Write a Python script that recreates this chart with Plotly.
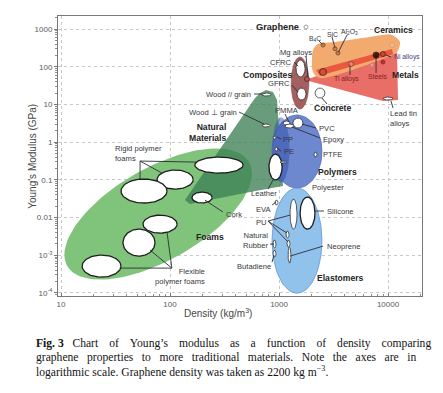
import math
import numpy as np
import plotly.graph_objects as go

# ---------------- axis ticks ----------------
x_tick_vals = [10, 100, 1000, 10000]
x_tick_text = ["10", "100", "1000", "10000"]
y_tick_vals = [1e-4, 1e-3, 0.01, 0.1, 1, 10, 100, 1000]
y_tick_text = ["10<sup>-4</sup>", "10<sup>-3</sup>", "0.01", "0.1", "1", "10", "100", "1000"]

# ---------------- family envelopes (density kg/m3, modulus GPa) ----------------
env_names = ["Polymers", "Polymers (dense part)", "Elastomers", "Composites"]
env_rho_lo = [863, 866, 863, 1290]
env_rho_hi = [2477, 1250, 2477, 1880]
env_E_lo = [0.0605, 0.085, 9.9e-5, 7.55]
env_E_hi = [5.24, 4.6, 0.0605, 181]

# foams envelope: ends of its long axis and of its short axis
foam_long_rho = [11.4, 531]
foam_long_E = [5.2e-4, 0.296]
foam_short_rho = [47.8, 126]
foam_short_E = [0.143, 1.08e-3]

# polygon envelopes
natural_rho = [670, 760, 881, 959, 1089, 542, 152, 137, 603]
natural_E = [20, 24.1, 21.3, 13.1, 0.0686, 0.0474, 0.0228, 0.0291, 14.8]
metal_rho = [1734, 11130, 12100, 12360, 8990]
metal_E = [44.4, 277, 231, 13.1, 12.3]
ceramic_rho = [2051, 2280, 3266, 6839, 10890, 12880, 12100, 9380, 2377, 2050]
ceramic_E = [277, 400, 452, 614, 693, 452, 245, 170, 50.1, 72.3]
overlap_rho = [2183, 10890, 11130, 2377]
overlap_E = [81.7, 294, 215, 58]

# ---------------- individual materials (density range, modulus range) ----------------
mat_names = ["Rigid foam 1", "Rigid foam 2", "Rigid foam 3", "Cork",
             "Flexible foam 1", "Flexible foam 2", "Flexible foam 3",
             "Wood // grain", "Wood perp grain", "Leather",
             "PMMA", "PVC", "Epoxy", "PP", "PE", "PTFE", "Polyester",
             "EVA", "PU", "PU 2", "PU 3", "Neoprene", "Natural rubber", "Butadiene", "Silicone",
             "CFRC", "GFRC", "Lead tin alloys", "Concrete"]
mat_rho_lo = [169, 76, 35.5, 159, 56.5, 37, 15.6, 698, 700, 809,
              1089, 1343, 1135, 881, 918, 2094, 1021,
              918, 1262, 1159, 1183, 1211, 881, 881, 1560,
              1432, 1463, 8990, 2140]
mat_rho_hi = [468, 163, 93.8, 243, 116, 72.8, 35.5, 845, 830, 1067,
              1262, 1660, 1373, 938, 979, 2233, 1183,
              979, 1463, 1236, 1262, 1288, 938, 938, 2138,
              1734, 1770, 11130, 2640]
mat_E_lo = [0.151, 0.057, 0.0243, 0.0243, 0.00388, 0.00095, 0.000264, 16.7, 2.52, 0.099,
            2.84, 2.37, 2.37, 1.21, 0.58, 0.403, 0.279,
            0.0215, 0.00495, 0.00286, 0.00165, 0.00062, 0.00155, 0.000895, 0.00495,
            53.3, 13.1, 13.1, 14.8]
mat_E_hi = [0.403, 0.182, 0.105, 0.0474, 0.0116, 0.00495, 0.00101, 20, 3.02, 0.483,
            3.63, 4.35, 3.02, 1.45, 0.74, 0.546, 0.315,
            0.0291, 0.031, 0.0044, 0.00253, 0.00165, 0.00253, 0.00137, 0.035,
            151, 27.2, 15.7, 27.2]

# ---------------- single-point materials ----------------
pt_names = ["Graphene", "B4C", "SiC", "Al2O3", "Ceramic", "Mg alloys", "Al alloys",
            "Ti alloys", "Alloy", "Steels", "Ni alloys", "Alloy 2"]
pt_rho = [1770, 2535, 3266, 3476, 10890, 1807, 2535, 4580, 7130, 7770, 8990, 8990]
pt_E = [1130, 377, 300, 231, 377, 47.2, 72.3, 118, 111, 204, 217, 133]

# ---------------- labels ----------------
lab_text = ["Graphene", "Ceramics", "Metals", "Composites", "Concrete", "Natural<br>Materials",
            "Polymers", "Foams", "Elastomers",
            "Polyester", "Silicone", "Neoprene", "Butadiene", "Natural<br>Rubber", "PU", "EVA",
            "Leather", "Cork", "Rigid polymer<br>foams", "Flexible<br>polymer foams",
            "Wood // grain", "Wood \u22a5 grain", "PMMA", "PVC", "Epoxy", "PP", "PE", "PTFE",
            "CFRC", "GFRC", "Mg alloys", "B<sub>4</sub>C", "SiC", "Al<sub>2</sub>O<sub>3</sub>",
            "Ni alloys", "Ti alloys", "Steels", "Lead tin<br>alloys"]
lab_rho = [959, 11130, 14620, 776, 3063, 340, 3476, 233, 3630,
           2818, 2642, 2642, 590, 826, 684, 728, 728, 313, 30, 218,
           577, 430, 1183, 2233, 2427, 1043, 1067, 2427,
           1373, 1314, 1432, 2138, 3126, 4480, 10890, 4120, 7930, 10000]
lab_E = [1130, 940, 60.3, 60.3, 8.04, 1.85, 0.161, 3.04e-3, 2.48e-4,
         0.0644, 0.0149, 1.75e-3, 5.18e-4, 2.53e-3, 7.6e-3, 0.0168, 0.0447, 0.0124, 0.514, 2.8e-4,
         18.9, 6.28, 7.1, 2.37, 1.21, 1.21, 0.58, 0.483,
         133, 37, 245, 543, 736, 832, 181, 47.2, 56.6, 4.35]
lab_anchor = ["center", "center", "center", "center", "center", "right", "center", "center", "center",
              "center", "left", "left", "center", "right", "center", "center", "center", "left", "left", "right",
              "right", "right", "center", "left", "left", "left", "left", "left",
              "right", "right", "center", "center", "center", "center", "left", "center", "center", "left"]
lab_bold = [1, 1, 1, 1, 1, 1, 1, 1, 1] + [0] * 29

# ---------------- leader lines (from, to) ----------------
lead_rho0 = [53.1, 53.1, 53.1, 104, 104, 104, 209, 590, 430, 881, 863, 793, 793, 793, 826, 863,
             1262, 2138, 1135, 1625, 1314, 959, 959, 1373, 1314, 1770, 2330, 3063, 4207, 9590,
             4480, 7770, 10660, 2477]
lead_E0 = [0.315, 0.315, 0.315, 4.57e-4, 4.57e-4, 4.57e-4, 0.0291, 18.9, 6.28, 0.099, 0.0215,
           8.07e-3, 8.07e-3, 8.07e-3, 1.98e-3, 6.6e-4, 9.5e-4, 0.0149, 5.56, 3.02, 2.52, 1.37, 0.696,
           133, 32.7, 192, 481, 614, 693, 204, 60.3, 68, 12.3, 14.8]
lead_rho1 = [53.1, 84.5, 173, 93.8, 65.6, 34.8, 306, 698, 728, 793, 938, 1262, 1183, 1211, 899, 899,
             2535, 2588, 1236, 2183, 2377, 1043, 1043, 1494, 1494, 1845, 2535, 3266, 3476, 10660,
             4480, 7770, 11130, 2754]
lead_E1 = [0.105, 0.151, 0.296, 4.12e-3, 1.37e-3, 4.57e-4, 0.014, 18.9, 3.02, 0.057, 0.0258,
           0.0116, 3.88e-3, 2.24e-3, 1.98e-3, 1.01e-3, 1.75e-3, 0.0149, 3.41, 2.37, 1.29, 1.21, 0.58,
           104, 21.3, 50.1, 377, 313, 231, 181, 118, 192, 8.04, 10.3]

FONT = "Liberation Sans, Arial, sans-serif"


def lg(v):
    return np.log10(np.asarray(v, dtype=float))


def ellipse(rlo, rhi, elo, ehi, n=80):
    t = np.linspace(0, 2 * np.pi, n)
    cx, rx = (lg(rlo) + lg(rhi)) / 2, (lg(rhi) - lg(rlo)) / 2
    cy, ry = (lg(elo) + lg(ehi)) / 2, (lg(ehi) - lg(elo)) / 2
    return 10 ** (cx + rx * np.cos(t)), 10 ** (cy + ry * np.sin(t))


def conj_ellipse(lr, le, sr, se, n=120):
    t = np.linspace(0, 2 * np.pi, n)
    c = np.array([lg(lr).mean(), lg(le).mean()])
    u = np.array([(lg(lr[1]) - lg(lr[0])) / 2, (lg(le[1]) - lg(le[0])) / 2])
    v = np.array([(lg(sr[1]) - lg(sr[0])) / 2, (lg(se[1]) - lg(se[0])) / 2])
    x = c[0] + u[0] * np.cos(t) + v[0] * np.sin(t)
    y = c[1] + u[1] * np.cos(t) + v[1] * np.sin(t)
    return 10 ** x, 10 ** y


fig = go.Figure()


def area(x, y, fill, line="rgba(0,0,0,0)", lw=0, shape="linear", name=""):
    x = list(x) + [x[0]]
    y = list(y) + [y[0]]
    fig.add_trace(go.Scatter(x=x, y=y, mode="lines", fill="toself", fillcolor=fill,
                             line=dict(color=line, width=lw, shape=shape, smoothing=0.8),
                             hoverinfo="skip", showlegend=False, name=name))


# foams
fx, fy = conj_ellipse(foam_long_rho, foam_long_E, foam_short_rho, foam_short_E)
area(fx, fy, "rgb(128,195,122)", name="Foams")
# natural materials
area(natural_rho, natural_E, "rgba(62,128,86,0.78)", name="Natural materials")
# polymers / elastomers / composites
colors_env = [("rgb(110,136,208)", "rgb(80,105,185)", 0.8),
              ("rgba(40,70,165,0.45)", "rgba(0,0,0,0)", 0),
              ("rgb(145,194,236)", "rgb(95,150,215)", 0.8),
              ("rgb(163,96,94)", "rgb(140,80,80)", 0.6)]
for i in range(len(env_names)):
    if env_names[i] == "Composites":
        area(metal_rho, metal_E, "rgb(234,110,104)", name="Metals")
        area(ceramic_rho, ceramic_E, "rgb(242,170,110)", shape="spline", name="Ceramics")
        area(overlap_rho, overlap_E, "rgb(234,88,62)", name="overlap")
    ex, ey = ellipse(env_rho_lo[i], env_rho_hi[i], env_E_lo[i], env_E_hi[i])
    fc, lc, lw = colors_env[i]
    area(ex, ey, fc, lc, lw, name=env_names[i])

# material bubbles
for i in range(len(mat_names)):
    bx, by = ellipse(mat_rho_lo[i], mat_rho_hi[i], mat_E_lo[i], mat_E_hi[i])
    lw = 1.3 if (mat_rho_hi[i] / mat_rho_lo[i] > 1.3) else 0.7
    area(bx, by, "white", "rgb(30,30,30)", lw, name=mat_names[i])

# leader lines
lx, ly = [], []
for i in range(len(lead_rho0)):
    lx += [lead_rho0[i], lead_rho1[i], None]
    ly += [lead_E0[i], lead_E1[i], None]
fig.add_trace(go.Scatter(x=lx, y=ly, mode="lines", line=dict(color="rgb(45,45,55)", width=0.9),
                         hoverinfo="skip", showlegend=False))

# point markers
pt_fill = ["white", "rgb(190,110,60)", "rgb(190,110,60)", "rgb(190,110,60)", "rgb(245,190,150)",
           "rgb(200,80,80)", "rgb(210,70,50)", "rgb(240,150,140)", "rgb(245,170,160)", "black",
           "rgb(200,60,60)", "rgb(160,30,30)"]
pt_line = ["rgb(120,120,120)", "rgb(70,50,40)", "rgb(70,50,40)", "rgb(70,50,40)", "rgb(220,150,110)",
           "rgb(60,30,30)", "rgb(40,20,20)", "rgb(120,60,60)", "rgb(200,120,120)", "black",
           "rgb(40,20,20)", "rgb(120,20,20)"]
pt_size = [4, 4, 4, 4, 5, 5, 7, 5, 4, 6, 5, 4]
fig.add_trace(go.Scatter(x=pt_rho, y=pt_E, mode="markers",
                         marker=dict(size=pt_size, color=pt_fill, line=dict(color=pt_line, width=1)),
                         hoverinfo="skip", showlegend=False))

annotations = []
for i in range(len(lab_text)):
    bold = lab_bold[i] == 1
    txt = "<b>%s</b>" % lab_text[i] if bold else lab_text[i]
    size = 8.6 if bold else 7.6
    if lab_text[i] == "Graphene":
        size = 9.2
    if lab_text[i] in ("B<sub>4</sub>C", "SiC", "Al<sub>2</sub>O<sub>3</sub>", "Ni alloys", "Ti alloys", "Steels"):
        size = 6.8
    col = "rgb(35,35,35)" if bold else "rgb(55,55,60)"
    if lab_text[i] == "Ni alloys":
        col = "rgb(70,60,120)"
    if lab_text[i] in ("Ti alloys", "Steels"):
        col = "rgb(130,30,30)"
    annotations.append(dict(x=math.log10(lab_rho[i]), y=math.log10(lab_E[i]), xref="x", yref="y",
                            text=txt, showarrow=False, xanchor=lab_anchor[i], yanchor="middle",
                            align=lab_anchor[i] if lab_anchor[i] != "center" else "center",
                            font=dict(family=FONT, size=size, color=col)))

# axis titles
annotations.append(dict(x=0.44, y=-0.06, xref="paper", yref="paper", text="Density (kg/m<sup>3</sup>)",
                        showarrow=False, xanchor="center", yanchor="middle",
                        font=dict(family=FONT, size=10, color="rgb(70,70,70)")))
annotations.append(dict(x=-0.072, y=0.50, xref="paper", yref="paper", text="Young's Modulus (GPa)",
                        showarrow=False, textangle=-90, xanchor="center", yanchor="middle",
                        font=dict(family=FONT, size=10, color="rgb(70,70,70)")))
# caption (justified by widening the word gaps of the first two lines)
G1 = " \u2002\u2009"
G2 = " \u2009\u2009\u200a"
cap = ["<b>Fig. 3</b>" + "   " + G1.join("Chart of Young\u2019s modulus as a function of density comparing".split(" ")),
       G2.join("graphene properties to more traditional materials. Note the axes are in".split(" ")),
       "logarithmic scale. Graphene density was taken as 2200 kg m<sup>\u22123</sup>."]
cap_y = [-0.168, -0.221, -0.271]
for t, yy in zip(cap, cap_y):
    annotations.append(dict(x=-0.066, y=yy, xref="paper", yref="paper", text=t, showarrow=False,
                            xanchor="left", yanchor="middle",
                            font=dict(family="Liberation Serif, Times New Roman, serif", size=11.6,
                                      color="rgb(20,20,20)")))

x_minor = [m * 10 ** d for d in range(0, 5) for m in range(2, 10) if 9 < m * 10 ** d < 20600]
y_minor = [m * 10 ** d for d in range(-5, 4) for m in range(2, 10) if 8e-5 < m * 10 ** d < 2200]

# the page adds an 8 px body margin, so the figure itself is 8 px smaller each way
fig.update_layout(
    width=435, height=385,
    margin=dict(l=50, r=21, t=8, b=97, autoexpand=False),
    paper_bgcolor="white", plot_bgcolor="white",
    annotations=annotations,
    xaxis=dict(type="log", range=[0.972, 4.312], tickvals=x_tick_vals, ticktext=x_tick_text,
               automargin=False,
               showgrid=True, gridcolor="rgb(200,200,200)", griddash="dot", gridwidth=1,
               showline=True, linecolor="rgb(120,120,120)", linewidth=1, mirror=True,
               ticks="inside", ticklen=3, tickcolor="rgb(120,120,120)",
               minor=dict(tickvals=x_minor, ticks="inside", ticklen=2, tickcolor="rgb(140,140,140)", showgrid=False),
               tickfont=dict(family=FONT, size=8, color="rgb(90,90,90)"), zeroline=False),
    yaxis=dict(type="log", range=[-4.08, 3.345], tickvals=y_tick_vals, ticktext=y_tick_text,
               automargin=False,
               showgrid=True, gridcolor="rgb(200,200,200)", griddash="dot", gridwidth=1,
               showline=True, linecolor="rgb(120,120,120)", linewidth=1, mirror=True,
               ticks="outside", ticklen=3, tickcolor="rgb(120,120,120)",
               minor=dict(tickvals=y_minor, ticks="outside", ticklen=2, tickcolor="rgb(140,140,140)", showgrid=False),
               tickfont=dict(family=FONT, size=8, color="rgb(90,90,90)"), zeroline=False),
)

fig.write_html("out.html")
